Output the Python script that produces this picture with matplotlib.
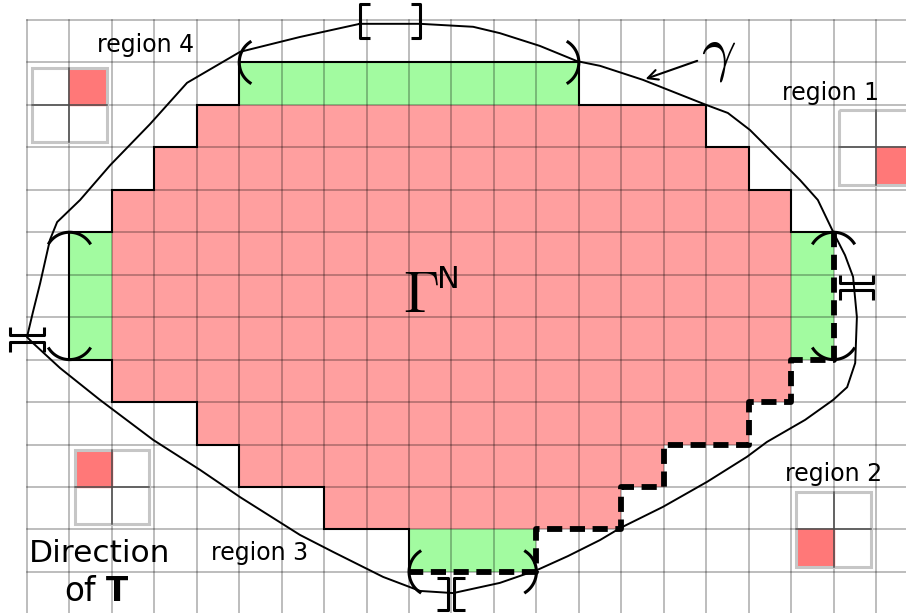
import numpy as np
import matplotlib.pyplot as plt
from matplotlib.patches import Rectangle

plt.rcParams["mathtext.fontset"] = "cm"

# grid geometry (cells of the picture)
n_cols = 20
n_rows = 13

# Gamma^N cells: one run of red cells per row
red_rows = [2, 3, 4, 5, 6, 7, 8, 9, 10, 11]
red_first = [4, 3, 2, 2, 2, 2, 2, 4, 5, 7]
red_last = [15, 16, 17, 17, 17, 17, 17, 16, 14, 13]

# green cells (runs per row)
green_rows = [1, 5, 6, 7, 5, 6, 7, 12]
green_first = [5, 1, 1, 1, 18, 18, 18, 9]
green_last = [12, 1, 1, 1, 18, 18, 18, 11]

# boundary of Gamma^N, solid part and dashed part
solid_x = [9, 9, 7, 7, 5, 5, 4, 4, 2, 2, 1, 1, 2, 2, 3, 3, 4, 4, 5, 5, 13, 13, 16, 16, 17, 17, 18, 18, 19]
solid_y = [13, 12, 12, 11, 11, 10, 10, 9, 9, 8, 8, 5, 5, 4, 4, 3, 3, 2, 2, 1, 1, 2, 2, 3, 3, 4, 4, 5, 5]
dash_x = [19, 19, 18, 18, 17, 17, 15, 15, 14, 14, 12, 12, 9]
dash_y = [5, 8, 8, 9, 9, 10, 10, 11, 11, 12, 12, 13, 13]

# curve gamma
gamma_x = [7.84, 9.26, 10.51, 11.14, 12.08, 12.96, 13.50, 14.51, 16.00, 16.51,
           17.03, 17.67, 18.21, 18.63, 18.99, 19.27, 19.46, 19.55, 19.51, 19.32,
           18.99, 18.33, 17.43, 16.96, 16.02, 14.98, 13.97, 13.50, 12.74, 12.01,
           11.14, 10.04, 9.26, 8.39, 7.21, 6.43, 5.02, 4.08, 2.97, 1.72,
           0.78, 0.14, 0.00, 0.14, 0.31, 0.54, 0.71, 1.25, 1.96, 2.90,
           3.77, 5.02, 6.43, 7.84]
gamma_y = [0.09, 0.09, 0.16, 0.31, 0.61, 0.97, 1.08, 1.41, 2.00, 2.19,
           2.59, 3.23, 3.77, 4.24, 4.99, 5.54, 6.05, 7.00, 8.08, 8.65,
           8.95, 9.42, 9.94, 10.29, 10.88, 11.47, 11.97, 12.25, 12.63, 12.96,
           13.26, 13.50, 13.45, 13.12, 12.53, 12.13, 11.24, 10.60, 9.89, 8.95,
           8.20, 7.61, 7.47, 6.88, 6.20, 5.18, 4.76, 4.24, 3.42, 2.45,
           1.48, 0.75, 0.40, 0.09]

# parenthesis arcs: apex point and direction the arc opens to (degrees)
arc_x = [5, 13, 1, 1, 19, 19, 9, 12]
arc_y = [1, 1, 5, 8, 5, 8, 13, 13]
arc_open = [0, 180, 90, 270, 90, 270, 0, 180]

# small 2x2 legend boxes: centre and which quadrant is red (dx, dy)
box_x = [1, 20, 19, 2]
box_y = [2, 3, 12, 11]
box_red = [(0, -1), (0, 0), (-1, 0), (-1, -1)]

labels = ["region 4", "region 1", "region 2", "region 3"]
label_x = [2.80, 18.92, 18.99, 5.47]
label_y = [0.59, 1.72, 10.69, 12.56]

RED = "#ff9f9f"
GREEN = "#a2fba0"
BOXRED = "#ff7878"

cell_px = 42.45
fig = plt.figure(figsize=(9.06, 6.13), dpi=100)
ax = fig.add_axes([0, 0, 1, 1])
ax.set_xlim(-27 / cell_px, (906 - 27) / cell_px)
ax.set_ylim((613 - 20) / cell_px, -20 / cell_px)
ax.axis("off")

# cells
for r, a, b in zip(red_rows, red_first, red_last):
    ax.barh(r + 0.5, b - a + 1, left=a, height=1, color=RED, zorder=1)
for r, a, b in zip(green_rows, green_first, green_last):
    ax.barh(r + 0.5, b - a + 1, left=a, height=1, color=GREEN, zorder=1)

# grid
for i in range(n_cols + 1):
    ax.axvline(i, ymin=0, ymax=(613 - 20) / 613, color="black", alpha=0.33, lw=1.1, zorder=2)
for j in range(n_rows + 1):
    ax.axhline(j, xmin=27 / 906, xmax=1, color="black", alpha=0.33, lw=1.1, zorder=2)

# legend boxes
h = 0.88
for bx, by, (dx, dy) in zip(box_x, box_y, box_red):
    ax.add_patch(Rectangle((bx + dx * h, by + dy * h), h, h, color=BOXRED, zorder=3))
    ax.add_patch(Rectangle((bx - h, by - h), 2 * h, 2 * h, fill=False,
                           edgecolor="#c6c6c6", lw=2.2, zorder=3))
    ax.plot([bx, bx], [by - h, by + h], color="#4a4a4a", lw=1.1, zorder=3)
    ax.plot([bx - h, bx + h], [by, by], color="#4a4a4a", lw=1.1, zorder=3)

# outline of Gamma^N
ax.plot(solid_x, solid_y, color="black", lw=1.5, zorder=4, solid_joinstyle="miter")
ax.plot(dash_x, dash_y, color="black", lw=4.2, ls=(0, (2.6, 1.3)), zorder=4)

# gamma curve
ax.plot(gamma_x, gamma_y, color="black", lw=1.4, zorder=5, solid_joinstyle="round")

# parenthesis arcs
rad = 0.58
t = np.radians(np.linspace(-56, 56, 40))
for px, py, ang in zip(arc_x, arc_y, arc_open):
    a = np.radians(ang)
    cx, cy = px + rad * np.cos(a), py + rad * np.sin(a)
    ax.plot(cx - rad * np.cos(a + t), cy - rad * np.sin(a + t), color="black", lw=2.2, zorder=5)

# interval markers
bk = dict(color="black", lw=2.2, zorder=5, solid_capstyle="butt")
# top [ ]
ax.plot([8.08, 7.84, 7.84, 8.08], [-0.38, -0.38, 0.42, 0.42], **bk)
ax.plot([9.04, 9.26, 9.26, 9.04], [-0.38, -0.38, 0.42, 0.42], **bk)
# bottom ][
ax.plot([9.66, 9.92, 9.92, 9.66], [13.14, 13.14, 13.90, 13.90], **bk)
ax.plot([10.32, 10.06, 10.06, 10.32], [13.14, 13.14, 13.90, 13.90], **bk)
# left
ax.plot([-0.40, -0.40, 0.40, 0.40], [7.23, 7.42, 7.42, 7.23], **bk)
ax.plot([-0.40, -0.40, 0.40, 0.40], [7.82, 7.59, 7.59, 7.82], **bk)
# right
ax.plot([19.15, 19.15, 19.93, 19.93], [6.01, 6.20, 6.20, 6.01], **bk)
ax.plot([19.15, 19.15, 19.93, 19.93], [6.60, 6.36, 6.36, 6.60], **bk)

# texts
for s, x, y in zip(labels, label_x, label_y):
    ax.text(x, y, s, fontsize=17, ha="center", va="center", zorder=6)
ax.text(1.72, 12.56, "Direction", fontsize=22.5, ha="center", va="center", zorder=6)
ax.text(1.65, 13.47, r"of $\mathbf{T}$", fontsize=23.5, ha="center", va="center",
        math_fontfamily="dejavusans", zorder=6)
ax.text(9.28, 6.48, r"$\Gamma$", fontsize=42, ha="center", va="center", zorder=6)
ax.text(9.92, 6.12, "N", fontsize=22, ha="center", va="center", zorder=6)
ax.text(16.28, 0.82, r"$\gamma$", fontsize=44, ha="center", va="center", zorder=6)
ax.annotate("", xy=(14.51, 1.41), xytext=(15.85, 0.94),
            arrowprops=dict(arrowstyle="->", lw=1.5, color="black", mutation_scale=18),
            zorder=6)

fig.savefig("out.png", dpi=100)
